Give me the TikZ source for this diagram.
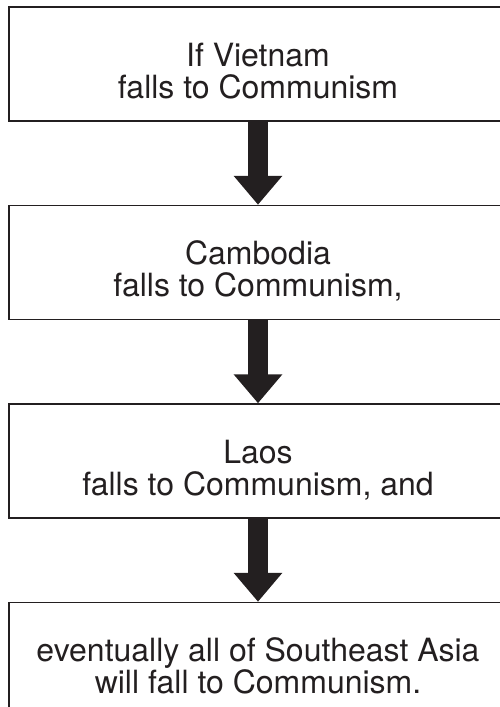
\documentclass[tikz,border=0pt]{standalone}
\usepackage{fontspec}
\setmainfont{TeX Gyre Heros}
\usetikzlibrary{arrows.meta,positioning}
\definecolor{ink}{RGB}{35,31,32}
\tikzset{
  box/.style = {draw=ink, line width=1.5pt, minimum width=498pt,
                minimum height=114pt, align=center, text=ink,
                text height=68pt, text depth=0pt,
                font=\fontsize{32}{32}\selectfont},
  ar/.style  = {-{Triangle[width=47pt,length=29pt]}, line width=20pt, draw=ink}
}

\begin{document}
\begin{tikzpicture}[x=1pt, y=-1pt, node distance=83pt]
  \useasboundingbox (0,0) rectangle (500,707);
  \node[box] (vn) at (258,64) {If Vietnam\\falls to Communism};
  \node[box, below=of vn] (kh) {Cambodia\\falls to Communism,};
  \node[box, below=of kh] (la) {Laos\\falls to Communism, and};
  \node[box, below=of la] (sea) {eventually all of Southeast Asia\\will fall to Communism.};
  \draw[ar] (vn.south) -- (kh.north);
  \draw[ar] (kh.south) -- (la.north);
  \draw[ar] (la.south) -- (sea.north);
\end{tikzpicture}
\end{document}
